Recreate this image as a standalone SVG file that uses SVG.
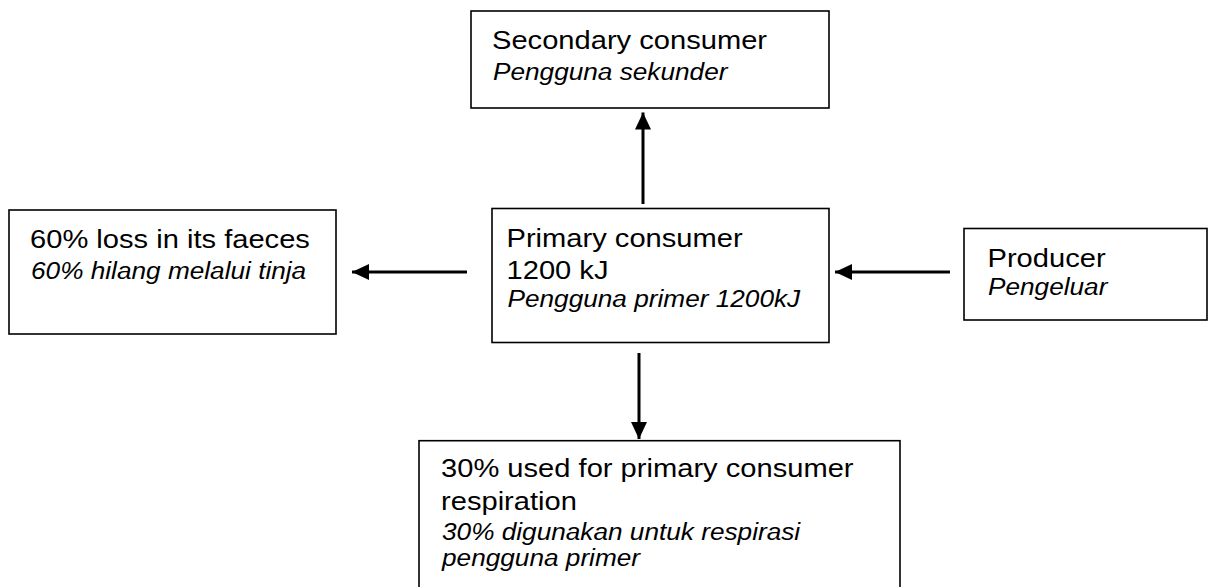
<svg xmlns="http://www.w3.org/2000/svg" width="1208" height="587" viewBox="0 0 1208 587">
<style>
.box{fill:#fff;stroke:#000;stroke-width:1.6}
.r{font-family:"Liberation Sans",Arial,sans-serif;font-size:26px;fill:#000}
.i{font-family:"Liberation Sans",Arial,sans-serif;font-size:23.4px;font-style:italic;fill:#000}
.c{stroke:#000;stroke-width:3;fill:none;marker-end:url(#ah)}
</style>
<defs>
<marker id="ah" markerUnits="userSpaceOnUse" markerWidth="18" markerHeight="16" viewBox="0 0 18 16" refX="17" refY="8" orient="auto">
<path d="M0,0 L17,8 L0,16 Z" fill="#000"/>
</marker>
</defs>
<rect width="1208" height="587" fill="#fff"/>
<g id="secondary">
<rect class="box" x="471" y="11" width="358" height="97"/>
<text class="r" transform="translate(492 49.3) scale(1.12 1)">Secondary consumer</text>
<text class="i" transform="translate(493 80) scale(1.12 1)">Pengguna sekunder</text>
</g>
<g id="primary">
<rect class="box" x="492" y="208.5" width="337" height="134"/>
<text class="r" transform="translate(506.5 246.7) scale(1.12 1)">Primary consumer</text>
<text class="r" transform="translate(506.5 279) scale(1.12 1)">1200 kJ</text>
<text class="i" transform="translate(507.5 306.7) scale(1.12 1)">Pengguna primer 1200kJ</text>
</g>
<g id="faeces">
<rect class="box" x="9" y="210" width="327" height="124"/>
<text class="r" transform="translate(30 247.7) scale(1.12 1)">60% loss in its faeces</text>
<text class="i" transform="translate(31 279) scale(1.12 1)">60% hilang melalui tinja</text>
</g>
<g id="producer">
<rect class="box" x="964" y="228.5" width="243" height="91.5"/>
<text class="r" transform="translate(987.5 266.7) scale(1.12 1)">Producer</text>
<text class="i" transform="translate(988 295) scale(1.12 1)">Pengeluar</text>
</g>
<g id="respiration">
<rect class="box" x="419" y="440.7" width="481" height="160"/>
<text class="r" transform="translate(441 476.7) scale(1.12 1)">30% used for primary consumer</text>
<text class="r" transform="translate(441 510) scale(1.12 1)">respiration</text>
<text class="i" transform="translate(442 540) scale(1.12 1)">30% digunakan untuk respirasi</text>
<text class="i" transform="translate(442 566) scale(1.12 1)">pengguna primer</text>
</g>
<g id="connectors">
<line class="c" x1="643" y1="204" x2="643" y2="112.5"/>
<line class="c" x1="639" y1="353" x2="639" y2="439"/>
<line class="c" x1="467" y1="272" x2="352" y2="272"/>
<line class="c" x1="950" y1="272" x2="835" y2="272"/>
</g>
</svg>
